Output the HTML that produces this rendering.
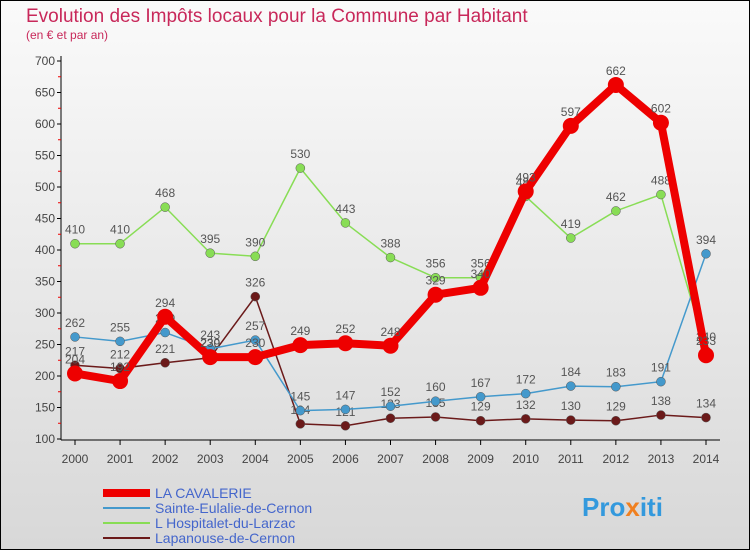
<!DOCTYPE html>
<html><head><meta charset="utf-8"><style>
body{margin:0;width:750px;height:550px;overflow:hidden;font-family:"Liberation Sans",sans-serif}
#wrap{position:relative;width:748px;height:548px;border:1px solid #000;background:linear-gradient(#fafafa,#d8d8d8);}
</style></head><body>
<div id="wrap">
<svg id="c" width="750" height="550" style="position:absolute;left:-1px;top:-1px">
<text x="26" y="22" font-size="19" fill="#c8285a">Evolution des Impôts locaux pour la Commune par Habitant</text>
<text x="26" y="39" font-size="12" fill="#c8285a">(en € et par an)</text>
<g id="axes"></g><g id="series"></g><g id="legend"></g>
<text x="582" y="516" font-size="26" font-weight="bold" fill="#3399dd">Pro<tspan fill="#f08020">x</tspan>iti</text>
</svg></div>
<script>
const years=[2000,2001,2002,2003,2004,2005,2006,2007,2008,2009,2010,2011,2012,2013,2014];
const yTicks=[100,150,200,250,300,350,400,450,500,550,600,650,700];
const names=["LA CAVALERIE","Sainte-Eulalie-de-Cernon","L  Hospitalet-du-Larzac","Lapanouse-de-Cernon"];
const cavalerie=[204,192,294,230,230,249,252,248,329,340,493,597,662,602,233];
const eulalie=[262,255,269,243,257,145,147,152,160,167,172,184,183,191,394];
const hospitalet=[410,410,468,395,390,530,443,388,356,356,485,419,462,488,240];
const lapanouse=[217,212,221,229,326,124,121,133,135,129,132,130,129,138,134];
const NS="http://www.w3.org/2000/svg";
const X=i=>75+i*(706-75)/(years.length-1);
const Y=v=>439-(v-100)*(439-61)/600;
function mk(p,t,a){const e=document.createElementNS(NS,t);for(const k in a)e.setAttribute(k,a[k]);p.appendChild(e);return e;}
const ax=document.getElementById('axes');
let l=mk(ax,'line',{x1:61,y1:56,x2:61,y2:440,stroke:'#000'});

l=mk(ax,'line',{x1:61,y1:440,x2:720,y2:440,stroke:'#000'});

yTicks.forEach((v,i)=>{mk(ax,'line',{x1:57,y1:Y(v),x2:61,y2:Y(v),stroke:'#000'});
 if(i<yTicks.length-1)mk(ax,'line',{x1:58,y1:Y(v+25),x2:61,y2:Y(v+25),stroke:'#e00'});
 const t=mk(ax,'text',{x:55,y:Y(v)+4,'font-size':12,'text-anchor':'end',fill:'#444'});t.textContent=v;
 });
years.forEach((y,i)=>{mk(ax,'line',{x1:X(i),y1:440,x2:X(i),y2:445,stroke:'#000'});
 const t=mk(ax,'text',{x:X(i),y:463,'font-size':12,'text-anchor':'middle',fill:'#444'});t.textContent=y;
 });
const se=document.getElementById('series');
const defs=[[lapanouse,'#6b1a1a',1.5,4.5,'lapanouse'],[hospitalet,'#88dd55',1.5,4.5,'hospitalet'],[eulalie,'#4499cc',1.5,4.5,'eulalie'],[cavalerie,'#ee0000',8,8,'cavalerie']];
defs.forEach(([d,c,w,r,n])=>{const g=mk(se,'g',{});
 
 mk(g,'polyline',{points:d.map((v,i)=>X(i)+','+Y(v)).join(' '),fill:'none',stroke:c,'stroke-width':w,'stroke-linejoin':'round'});
 d.forEach((v,i)=>{const p=mk(g,'circle',{cx:X(i),cy:Y(v),r:r,fill:c,stroke:r<6?'#555':'none','stroke-width':0.5});
  
  const t=mk(g,'text',{x:X(i),y:Y(v)-10,'font-size':12,'text-anchor':'middle',fill:'#555'});t.textContent=v;
  });});
const lg=document.getElementById('legend');
const lc=['#ee0000','#4499cc','#88dd55','#6b1a1a'],lw=[8,2,2,2];
names.forEach((n,i)=>{const y=493+i*15;const g=mk(lg,'g',{});
 
 mk(g,'line',{x1:103,y1:y,x2:150,y2:y,stroke:lc[i],'stroke-width':lw[i]});
 const t=mk(g,'text',{x:155,y:y+5,'font-size':14,fill:'#4466cc'});t.textContent=n;});
</script>
</body></html>
